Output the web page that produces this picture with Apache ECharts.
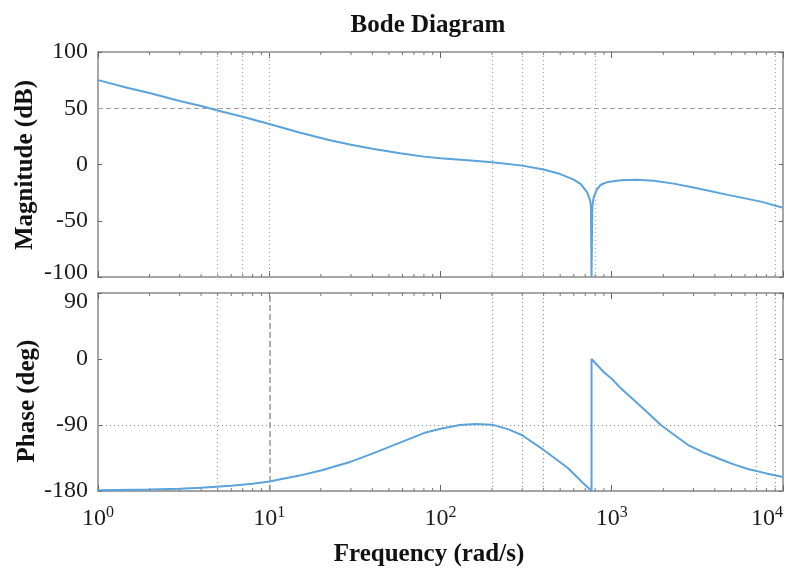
<!DOCTYPE html>
<html>
<head>
<meta charset="utf-8">
<script src="https://cdn.jsdelivr.net/npm/echarts@6/dist/echarts.min.js"></script>
<style>
  html, body { margin: 0; padding: 0; background: #fff; }
  #chart { width: 793px; height: 570px; }
</style>
</head>
<body>
<div id="chart"></div>
<script>
// Frequency response samples: [frequency (rad/s), value]
const magnitudeDb = [
  [1, 75], [1.5, 68], [2, 63.5], [3, 56.5], [4, 52], [5, 48], [7, 42.5], [10, 36],
  [15, 28.5], [22, 22], [30, 17.5], [40, 14], [58, 10], [80, 7], [100, 5.5],
  [150, 3.5], [200, 2], [300, -1], [400, -4.5], [500, -8.5], [600, -13.5],
  [660, -17.5], [720, -25], [748, -32], [756, -37], [762, -100], [770, -37],
  [785, -29], [820, -22], [862, -18], [950, -15.5], [1130, -14], [1400, -13.5],
  [1760, -14.5], [2300, -17], [3000, -20.5], [4770, -27], [7430, -33], [10000, -38.5]
];
const phaseDeg = [
  [1, -179], [2, -178], [3, -177], [4, -175.5], [6, -173], [8, -170], [10, -167],
  [15, -159], [20, -152], [30, -140], [40, -129], [58, -114], [80, -101], [100, -95],
  [130, -90], [160, -88.5], [200, -89.5], [250, -96], [300, -104], [400, -124],
  [550, -148], [680, -169], [762, -180], [762, 0], [900, -18], [1000, -27],
  [1130, -40], [1345, -56], [1600, -72], [1935, -90], [2300, -103], [2780, -117],
  [3400, -127], [4340, -137], [5200, -144], [6240, -150], [8000, -156], [10000, -161]
];

// Axis ticks
const magTicks = [100, 50, 0, -50, -100];
const phaseTicks = [90, 0, -90, -180];

// Reference lines drawn on each panel
const magGridFreqs = [5, 7, 10, 200, 300, 400, 800, 9000];
const magGridLevels = [50];
const phaseGridFreqs = [5, 200, 300, 400, 7000, 9000];
const phaseDashedFreqs = [10];
const phaseGridLevels = [-90, -180];

// Minor log ticks (2..9 in each decade)
const minorFreqs = [];
for (let d = 0; d < 4; d++) {
  for (let k = 2; k <= 9; k++) minorFreqs.push(k * Math.pow(10, d));
}

const SERIF = 'Liberation Serif';
const TXT = '#1c1c1c';
const BOX = '#8a8a8a';
const CURVE = '#5aa3dc';
const GUIDE = '#a0a0a0';
const HEAD_FONT = 'bold 25px "Liberation Serif"';

const chart = echarts.init(document.getElementById('chart'));

function logAxis(gridIndex, position, showLabels) {
  return {
    type: 'log', logBase: 10, min: 1, max: 10000, gridIndex, position,
    axisLine: { show: true, onZero: false, lineStyle: { color: BOX, width: 1.5 } },
    axisTick: { show: true, inside: true, length: 6, lineStyle: { color: '#666' } },
    splitLine: { show: false },
    axisLabel: showLabels ? {
      show: true, margin: 14, color: TXT, fontFamily: SERIF,
      alignMaxLabel: 'right',
      formatter: v => '{b|10}{s|' + Math.round(Math.log10(v)) + '}',
      rich: {
        b: { fontSize: 24, fontFamily: SERIF, color: TXT },
        s: { fontSize: 16, fontFamily: SERIF, color: TXT, padding: [0, 0, 12, 0] }
      }
    } : { show: false }
  };
}

// Edge labels are nudged inward so neighbouring panels' labels don't collide
function valAxis(gridIndex, position, min, max, interval, showLabels) {
  return {
    type: 'value', gridIndex, position, min, max, interval,
    axisLine: { show: true, onZero: false, lineStyle: { color: BOX, width: 1.5 } },
    axisTick: { show: true, inside: true, length: 4, lineStyle: { color: '#666' } },
    splitLine: { show: false },
    axisLabel: showLabels ? {
      show: true, margin: 10, color: TXT, fontFamily: SERIF, fontSize: 24,
      formatter: v => v === max && max === 90 ? '{lo|' + v + '}'
        : (v === min && min === -100 ? '{hi|' + v + '}' : '{n|' + v + '}'),
      rich: {
        n: { fontSize: 24, fontFamily: SERIF, color: TXT },
        lo: { fontSize: 24, fontFamily: SERIF, color: TXT, padding: [18, 0, 0, 0] },
        hi: { fontSize: 24, fontFamily: SERIF, color: TXT, padding: [0, 0, 8, 0] }
      }
    } : { show: false }
  };
}

function guideLines(freqs, levels, type, color, width) {
  return freqs.map(f => ({ xAxis: f, lineStyle: { type, color, width } }))
    .concat(levels.map(l => ({ yAxis: l, lineStyle: { type, color, width } })));
}

function minorTickSeries(xi, yi, ymin, ymax) {
  return {
    type: 'custom', xAxisIndex: xi, yAxisIndex: yi, silent: true, z: 4,
    data: minorFreqs.map(f => [f, ymin]),
    encode: { x: 0, y: 1 },
    renderItem: (params, api) => {
      const f = api.value(0);
      const b = api.coord([f, ymin]);
      const t = api.coord([f, ymax]);
      const st = { stroke: '#777', lineWidth: 1 };
      return {
        type: 'group', children: [
          { type: 'line', shape: { x1: b[0], y1: b[1], x2: b[0], y2: b[1] - 3 }, style: st },
          { type: 'line', shape: { x1: t[0], y1: t[1], x2: t[0], y2: t[1] + 3 }, style: st }
        ]
      };
    }
  };
}

chart.setOption({
  animation: false,
  backgroundColor: '#fff',
  grid: [
    { left: 98, top: 52, width: 685, height: 225, outerBoundsMode: 'none', containLabel: false },
    { left: 98, top: 293, width: 685, height: 198, outerBoundsMode: 'none', containLabel: false }
  ],
  xAxis: [
    logAxis(0, 'bottom', false),
    logAxis(0, 'top', false),
    logAxis(1, 'bottom', true),
    logAxis(1, 'top', false)
  ],
  yAxis: [
    valAxis(0, 'left', magTicks[magTicks.length - 1], magTicks[0], 50, true),
    valAxis(0, 'right', magTicks[magTicks.length - 1], magTicks[0], 50, false),
    valAxis(1, 'left', phaseTicks[phaseTicks.length - 1], phaseTicks[0], 90, true),
    valAxis(1, 'right', phaseTicks[phaseTicks.length - 1], phaseTicks[0], 90, false)
  ],
  series: [
    {
      name: 'grid-mag', type: 'line', xAxisIndex: 0, yAxisIndex: 0, z: 1,
      data: magnitudeDb, showSymbol: false, lineStyle: { opacity: 0 }, silent: true,
      markLine: {
        silent: true, symbol: 'none', label: { show: false },
        data: guideLines(magGridFreqs, [], [1, 3], GUIDE, 1)
          .concat(guideLines([], magGridLevels, [5, 3], GUIDE, 1))
      }
    },
    {
      name: 'grid-phase', type: 'line', xAxisIndex: 2, yAxisIndex: 2, z: 1,
      data: phaseDeg, showSymbol: false, lineStyle: { opacity: 0 }, silent: true,
      markLine: {
        silent: true, symbol: 'none', label: { show: false },
        data: guideLines(phaseGridFreqs, phaseGridLevels, [1, 3], '#8c8c8c', 1.2)
          .concat(guideLines(phaseDashedFreqs, [], [6, 3], '#999', 1.5))
      }
    },
    {
      name: 'Magnitude', type: 'line', xAxisIndex: 0, yAxisIndex: 0, z: 5,
      data: magnitudeDb, showSymbol: false, smooth: false,
      lineStyle: { color: CURVE, width: 2 }
    },
    {
      name: 'Phase', type: 'line', xAxisIndex: 2, yAxisIndex: 2, z: 5,
      data: phaseDeg, showSymbol: false, smooth: false,
      lineStyle: { color: CURVE, width: 2 }
    },
    minorTickSeries(0, 0, -100, 100),
    minorTickSeries(2, 2, -180, 90)
  ],
  graphic: [
    {
      type: 'text', x: 428, y: 26,
      style: { text: 'Bode Diagram', font: HEAD_FONT, fill: '#111',
        textAlign: 'center', textVerticalAlign: 'middle' }
    },
    {
      type: 'text', x: 26, y: 165, rotation: Math.PI / 2,
      style: { text: 'Magnitude (dB)', font: HEAD_FONT, fill: '#111',
        textAlign: 'center', textVerticalAlign: 'middle' }
    },
    {
      type: 'text', x: 28, y: 401, rotation: Math.PI / 2,
      style: { text: 'Phase (deg)', font: HEAD_FONT, fill: '#111',
        textAlign: 'center', textVerticalAlign: 'middle' }
    },
    {
      type: 'text', x: 429, y: 555,
      style: { text: 'Frequency (rad/s)', font: HEAD_FONT, fill: '#111',
        textAlign: 'center', textVerticalAlign: 'middle' }
    }
  ]
});
</script>
</body>
</html>
